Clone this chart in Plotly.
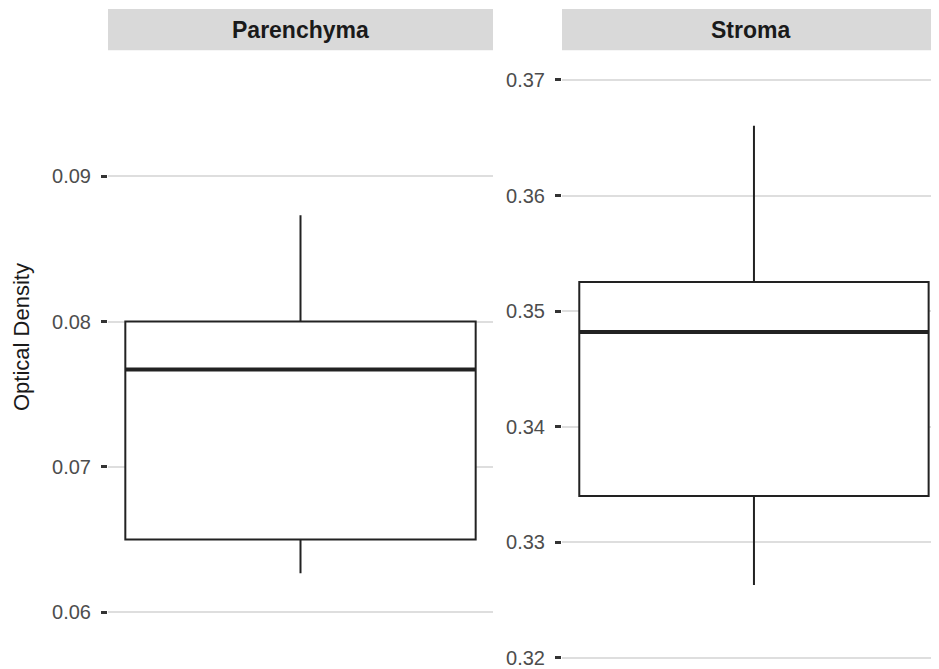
import plotly.graph_objects as go

# ---- data ----
panels = ["Parenchyma", "Stroma"]
lower_whisker = [0.06267, 0.32631]
q1 = [0.0650, 0.3340]
median = [0.07671, 0.3482]
q3 = [0.0800, 0.35253]
upper_whisker = [0.08733, 0.36605]
tick_vals = [[0.06, 0.07, 0.08, 0.09], [0.32, 0.33, 0.34, 0.35, 0.36, 0.37]]
y_ranges = [[0.05635, 0.09852], [0.31938, 0.37236]]
y_title = "Optical Density"

OFF = 8  # page body margin
W, H = 939 - OFF, 669 - OFF
BOX_W = 0.91
FONT = "Liberation Sans, Arial, sans-serif"
fig = go.Figure()

def px(x):
    return (x - OFF) / W

def py(y):
    return 1 - (y - OFF) / H

x_domains = [[px(108), px(493)], [px(562), 1.0]]
x_ranges = [[-0.5, 0.5], [-0.5, 0.482]]
y_dom = [0, py(53)]

for i, name in enumerate(panels):
    xa = "x" if i == 0 else "x2"
    ya = "y" if i == 0 else "y2"
    fig.add_trace(go.Box(
        x=[0], q1=[q1[i]], median=[median[i]], q3=[q3[i]],
        lowerfence=[lower_whisker[i]], upperfence=[upper_whisker[i]],
        width=BOX_W, whiskerwidth=0,
        fillcolor="white", line=dict(color="#222222", width=2),
        xaxis=xa, yaxis=ya, showlegend=False, hoverinfo="skip",
    ))
    # thicker median line
    fig.add_trace(go.Scatter(
        x=[-BOX_W / 2, BOX_W / 2], y=[median[i], median[i]], mode="lines",
        line=dict(color="#222222", width=4), xaxis=xa, yaxis=ya,
        showlegend=False, hoverinfo="skip",
    ))
    # strip header
    fig.add_shape(type="rect", xref="paper", yref="paper",
                  x0=x_domains[i][0], x1=x_domains[i][1],
                  y0=py(50.5), y1=py(9),
                  fillcolor="#d9d9d9", line=dict(width=0), layer="below")
    fig.add_annotation(text="<b>" + name + "</b>", xref="paper", yref="paper",
                       x=(x_domains[i][0] + x_domains[i][1]) / 2, y=py(30),
                       showarrow=False, font=dict(size=23, color="#1a1a1a", family=FONT),
                       xanchor="center", yanchor="middle")

axis_common = dict(showgrid=False, zeroline=False, showticklabels=False,
                   ticks="", showline=False, fixedrange=True)
yaxis_common = dict(showgrid=True, gridcolor="#dedede", gridwidth=2, zeroline=False,
                    ticks="outside", ticklen=6, tickwidth=2.5, tickcolor="#333333",
                    tickformat=".2f", showline=False, ticklabelstandoff=6,
                    ticklabeloverflow="allow",
                    tickfont=dict(size=20, color="#4d4d4d", family=FONT))

fig.update_layout(
    width=W, height=H,
    margin=dict(l=0, r=0, t=0, b=0),
    paper_bgcolor="white", plot_bgcolor="white",
    xaxis=dict(domain=x_domains[0], range=x_ranges[0], **axis_common),
    xaxis2=dict(domain=x_domains[1], range=x_ranges[1], **axis_common),
    yaxis=dict(domain=y_dom, range=y_ranges[0], tickvals=tick_vals[0], **yaxis_common),
    yaxis2=dict(domain=y_dom, range=y_ranges[1], tickvals=tick_vals[1], anchor="x2",
                **yaxis_common),
    font=dict(family=FONT),
)

fig.add_annotation(text=y_title, xref="paper", yref="paper", x=px(22), y=py(339),
                   textangle=-90, showarrow=False,
                   font=dict(size=22, color="#1a1a1a", family=FONT),
                   xanchor="center", yanchor="middle")

fig.write_html("out.html")
